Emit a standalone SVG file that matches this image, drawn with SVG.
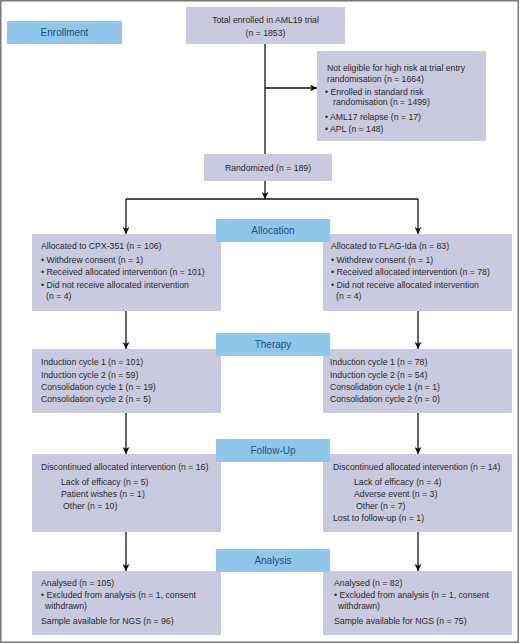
<svg xmlns="http://www.w3.org/2000/svg" width="520" height="644" viewBox="0 0 520 644">
<defs>
<marker id="ah" viewBox="0 0 10 10" refX="10" refY="5" markerWidth="7" markerHeight="7" markerUnits="userSpaceOnUse" orient="auto">
<path d="M0,0 L10,5 L0,10 L2.5,5 Z" fill="#111"/>
</marker>
<style>
.frame{fill:#fff;stroke:#555;stroke-width:1.2}
.box{fill:#c9c9df}
.lab{fill:#8fc6eb}
.t{font-family:"Liberation Sans",Arial,sans-serif;font-size:8.7px;fill:#2a2a2a}
.lt{font-family:"Liberation Sans",Arial,sans-serif;font-size:10px;fill:#1d4f82;text-anchor:middle}
.c{text-anchor:middle}
.ln{stroke:#111;stroke-width:1.3;fill:none}
.ar{stroke:#111;stroke-width:1.3;fill:none;marker-end:url(#ah)}
</style>
</defs>
<rect class="frame" x="0.8" y="0.8" width="517.4" height="641.4"/>

<g id="connectors">
<line class="ln" x1="265" y1="44" x2="265" y2="154"/>
<line class="ar" x1="265" y1="88" x2="317" y2="88"/>
<line class="ar" x1="265" y1="181" x2="265" y2="199"/>
<line class="ln" x1="126" y1="199" x2="418" y2="199"/>
<line class="ar" x1="126" y1="199" x2="126" y2="234"/>
<line class="ar" x1="418" y1="199" x2="418" y2="234"/>
<line class="ar" x1="126" y1="311" x2="126" y2="349"/>
<line class="ar" x1="418" y1="311" x2="418" y2="349"/>
<line class="ar" x1="126" y1="413" x2="126" y2="454"/>
<line class="ar" x1="418" y1="413" x2="418" y2="454"/>
<line class="ar" x1="126" y1="532" x2="126" y2="571"/>
<line class="ar" x1="418" y1="532" x2="418" y2="571"/>
</g>

<g id="total">
<rect class="box" x="186" y="7" width="159" height="37"/>
<text class="t c" x="265.5" y="23">Total enrolled in AML19 trial</text>
<text class="t c" x="265.5" y="36">(n = 1853)</text>
</g>

<g id="not-eligible">
<rect class="box" x="317" y="51" width="169" height="90"/>
<text class="t" x="327" y="71">Not eligible for high risk at trial entry</text>
<text class="t" x="327" y="82">randomisation (n = 1664)</text>
<text class="t" x="325" y="95">• Enrolled in standard risk</text>
<text class="t" x="333" y="105">randomisation (n = 1499)</text>
<text class="t" x="325" y="120">• AML17 relapse (n = 17)</text>
<text class="t" x="325" y="132">• APL (n = 148)</text>
</g>

<g id="randomized">
<rect class="box" x="204" y="154" width="128" height="27"/>
<text class="t c" x="268" y="171">Randomized (n = 189)</text>
</g>

<g id="alloc-cpx">
<rect class="box" x="32" y="234" width="189" height="77"/>
<text class="t" x="41" y="249">Allocated to CPX-351 (n = 106)</text>
<text class="t" x="41" y="263">• Withdrew consent (n = 1)</text>
<text class="t" x="41" y="275">• Received allocated intervention (n = 101)</text>
<text class="t" x="41" y="288">• Did not receive allocated intervention</text>
<text class="t" x="46" y="299">(n = 4)</text>
</g>

<g id="alloc-flag">
<rect class="box" x="323" y="234" width="189" height="77"/>
<text class="t" x="331" y="249">Allocated to FLAG-Ida (n = 83)</text>
<text class="t" x="331" y="263">• Withdrew consent (n = 1)</text>
<text class="t" x="331" y="275">• Received allocated intervention (n = 78)</text>
<text class="t" x="331" y="288">• Did not receive allocated intervention</text>
<text class="t" x="336" y="299">(n = 4)</text>
</g>

<g id="therapy-cpx">
<rect class="box" x="32" y="349" width="189" height="64"/>
<text class="t" x="41" y="365">Induction cycle 1 (n = 101)</text>
<text class="t" x="41" y="378">Induction cycle 2 (n = 59)</text>
<text class="t" x="41" y="390">Consolidation cycle 1 (n = 19)</text>
<text class="t" x="41" y="402">Consolidation cycle 2 (n = 5)</text>
</g>

<g id="therapy-flag">
<rect class="box" x="323" y="349" width="189" height="64"/>
<text class="t" x="330" y="365">Induction cycle 1 (n = 78)</text>
<text class="t" x="330" y="378">Induction cycle 2 (n = 54)</text>
<text class="t" x="330" y="390">Consolidation cycle 1 (n = 1)</text>
<text class="t" x="330" y="402">Consolidation cycle 2 (n = 0)</text>
</g>

<g id="followup-cpx">
<rect class="box" x="32" y="454" width="189" height="78"/>
<text class="t" x="41" y="470">Discontinued allocated intervention (n = 16)</text>
<text class="t" x="61" y="485">Lack of efficacy (n = 5)</text>
<text class="t" x="61" y="497">Patient wishes (n = 1)</text>
<text class="t" x="63" y="509">Other (n = 10)</text>
</g>

<g id="followup-flag">
<rect class="box" x="323" y="454" width="189" height="78"/>
<text class="t" x="333" y="470">Discontinued allocated intervention (n = 14)</text>
<text class="t" x="354" y="485">Lack of efficacy (n = 4)</text>
<text class="t" x="354" y="497">Adverse event (n = 3)</text>
<text class="t" x="356" y="509">Other (n = 7)</text>
<text class="t" x="333" y="521">Lost to follow-up (n = 1)</text>
</g>

<g id="analysis-cpx">
<rect class="box" x="32" y="571" width="189" height="64"/>
<text class="t" x="41" y="586">Analysed (n = 105)</text>
<text class="t" x="41" y="598">• Excluded from analysis (n = 1, consent</text>
<text class="t" x="45" y="609">withdrawn)</text>
<text class="t" x="41" y="624">Sample available for NGS (n = 96)</text>
</g>

<g id="analysis-flag">
<rect class="box" x="323" y="571" width="189" height="64"/>
<text class="t" x="334" y="586">Analysed (n = 82)</text>
<text class="t" x="334" y="598">• Excluded from analysis (n = 1, consent</text>
<text class="t" x="338" y="609">withdrawn)</text>
<text class="t" x="334" y="624">Sample available for NGS (n = 75)</text>
</g>

<g id="label-enrollment">
<rect class="lab" x="7" y="21" width="115" height="23"/>
<text class="lt" x="64.5" y="36">Enrollment</text>
</g>
<g id="label-allocation">
<rect class="lab" x="216" y="219" width="114" height="23"/>
<text class="lt" x="273" y="234">Allocation</text>
</g>
<g id="label-therapy">
<rect class="lab" x="216" y="333" width="114" height="23"/>
<text class="lt" x="273" y="348">Therapy</text>
</g>
<g id="label-followup">
<rect class="lab" x="216" y="439" width="114" height="23"/>
<text class="lt" x="273" y="454">Follow-Up</text>
</g>
<g id="label-analysis">
<rect class="lab" x="216" y="549" width="114" height="23"/>
<text class="lt" x="273" y="564">Analysis</text>
</g>
</svg>
